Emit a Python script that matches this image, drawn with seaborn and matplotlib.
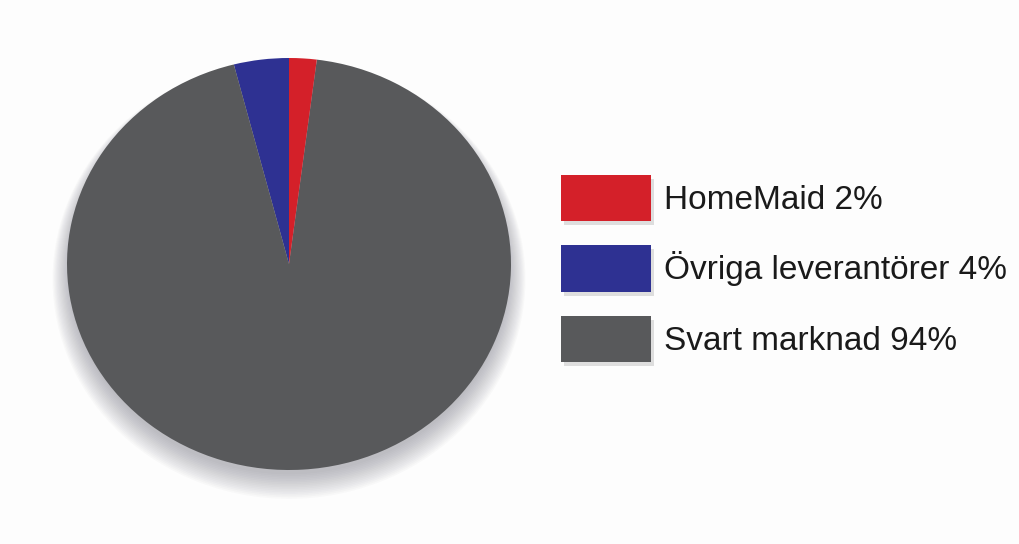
import matplotlib
matplotlib.use("Agg")
import matplotlib.pyplot as plt
import seaborn as sns
from matplotlib.patches import Ellipse, Patch
import matplotlib.patheffects as pe

labels = ["HomeMaid 2%", "Övriga leverantörer 4%", "Svart marknad 94%"]
values = [2, 4, 94]
colors = ["#d42029", "#2e3192", "#58595b"]

sns.set_theme(style="white")
plt.rcParams['font.family'] = ['Liberation Sans', 'DejaVu Sans']

fig = plt.figure(figsize=(10.2, 5.44), dpi=100)
fig.patch.set_facecolor("#fdfdfd")
W, H = 1020, 544
left, top, right, bottom = 67, 58, 511, 470
ax = fig.add_axes([left / W, 1 - bottom / H, (right - left) / W, (bottom - top) / H])
ax.set_facecolor("none")

# soft shadow
for i in range(16):
    s = 0.99 + 0.005 * i
    ax.add_patch(Ellipse((0.0, -0.03 - 0.003 * i), 2 * s, 2 * s, facecolor="#6a6a78",
                         edgecolor="none", alpha=0.03, zorder=0, clip_on=False))

# order counterclockwise from top: Övriga, Svart, HomeMaid
order = [1, 2, 0]
wedges, _ = ax.pie([values[i] for i in order], colors=[colors[i] for i in order],
                   startangle=90, counterclock=True,
                   wedgeprops=dict(linewidth=0, zorder=2))
ax.set_xlim(-1, 1)
ax.set_ylim(-1, 1)
ax.set_aspect("auto")
ax.axis("off")

proxies = [Patch(facecolor=colors[i], edgecolor="none",
                 path_effects=[pe.SimplePatchShadow(offset=(2, -3), shadow_rgbFace="#999999", alpha=0.3), pe.Normal()])
           for i in range(3)]
leg = fig.legend(proxies, labels, loc="upper left",
                 bbox_to_anchor=(561 / W, 1 - 175 / H), frameon=False,
                 fontsize=24, handlelength=2.7, handleheight=1.76,
                 labelspacing=0.72, handletextpad=0.39, borderpad=0, borderaxespad=0)
for t in leg.get_texts():
    t.set_color("#1a1a1a")

fig.savefig("out.png", dpi=100, facecolor=fig.get_facecolor())
